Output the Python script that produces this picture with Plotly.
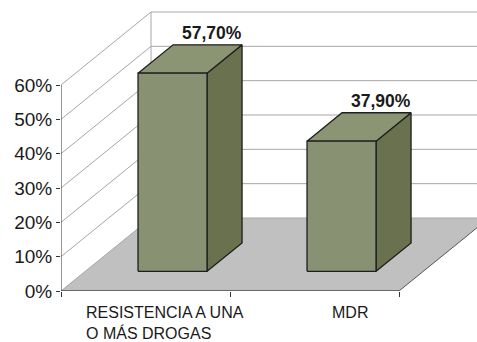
import plotly.graph_objects as go

categories = ["RESISTENCIA A UNA<br>O MÁS DROGAS", "MDR"]
values = [57.7, 37.9]
value_labels = ["57,70%", "37,90%"]
y_ticks = [0, 10, 20, 30, 40, 50, 60]
y_tick_labels = ["0%", "10%", "20%", "30%", "40%", "50%", "60%"]

# projection geometry (category units horizontally, percent units vertically)
PX_X = 169.0
PX_Y = 206.0 / 60.0
DX = 90.0 / PX_X
DY = 73.0 / PX_Y
X_MAX = 416.0 / PX_X
Y_MAX = 281.0 / PX_Y
YMAX_AXIS = 60

BAR_A = 0.312
BAR_W = 69.0 / PX_X
DF = 0.27
DB = 0.659

FRONT = "#889272"
SIDE = "#69714f"
TOP = "#8b9574"
EDGE = "#1e1e1e"
GRID = "#a6a6a6"
FLOOR = "#c0c0c0"


def proj(x, y, d):
    return x + d * DX, y + d * DY


fig = go.Figure()


def poly(pts, fill, line_color, width, closed=True):
    xs = [p[0] for p in pts]
    ys = [p[1] for p in pts]
    if closed:
        xs.append(xs[0])
        ys.append(ys[0])
    fig.add_trace(go.Scatter(
        x=xs, y=ys, mode="lines",
        fill="toself" if fill else None,
        fillcolor=fill,
        line=dict(color=line_color, width=width) if line_color else dict(width=0),
        hoverinfo="skip", showlegend=False))


n = len(categories)
# floor
poly([proj(0, 0, 0), proj(n, 0, 0), proj(n, 0, 1), proj(0, 0, 1)], FLOOR, None, 0)
# floor right edge
poly([proj(n, 0, 0), proj(n, 0, 1)], None, "#555555", 1, closed=False)
# walls gridlines
for v in y_ticks:
    poly([proj(0, v, 0), proj(0, v, 1), proj(X_MAX + 1, v, 1)], None, GRID, 1, closed=False)
poly([proj(0, 0, 1), proj(0, YMAX_AXIS, 1)], None, GRID, 1, closed=False)
# front axis line and floor front edge
poly([proj(0, 0, 0), proj(0, YMAX_AXIS, 0)], None, "#333333", 1, closed=False)
poly([proj(0, 0, 0), proj(n, 0, 0)], None, "#111111", 1.2, closed=False)

# bars
for i, v in enumerate(values):
    x0 = i + BAR_A
    x1 = x0 + BAR_W
    side = [proj(x1, 0, DF), proj(x1, 0, DB), proj(x1, v, DB), proj(x1, v, DF)]
    top = [proj(x0, v, DF), proj(x1, v, DF), proj(x1, v, DB), proj(x0, v, DB)]
    front = [proj(x0, 0, DF), proj(x1, 0, DF), proj(x1, v, DF), proj(x0, v, DF)]
    poly(side, SIDE, EDGE, 1.3)
    poly(top, TOP, EDGE, 1.3)
    poly(front, FRONT, EDGE, 1.3)
    lx, ly = proj((x0 + x1) / 2, v, DB)
    fig.add_annotation(x=lx, y=ly, xref="x", yref="y", text="<b>" + value_labels[i] + "</b>",
                       showarrow=False, xanchor="center", yanchor="middle", yshift=12, xshift=4,
                       font=dict(family="Liberation Sans, Arial", size=17.5, color="#1a1a1a"))

# category labels
cat_pos = [(84 - 61) / PX_X, (350 - 61) / PX_X]
cat_anchor = ["left", "center"]
for i, c in enumerate(categories):
    fig.add_annotation(x=cat_pos[i], y=0, xref="x", yref="y", text=c, showarrow=False,
                       xanchor=cat_anchor[i], yanchor="top", yshift=-11, align="left",
                       font=dict(family="Liberation Sans, Arial", size=16, color="#1a1a1a"))

fig.update_layout(
    width=477, height=342,
    margin=dict(l=61, r=0, t=10, b=51),
    paper_bgcolor="white", plot_bgcolor="white",
    xaxis=dict(range=[0, X_MAX], showgrid=False, zeroline=False, showline=False,
               tickvals=list(range(n + 1)), ticktext=[""] * (n + 1), ticks="outside",
               ticklen=5, tickcolor="#333333", fixedrange=True),
    yaxis=dict(range=[0, Y_MAX], showgrid=False, zeroline=False, showline=False,
               tickvals=y_ticks, ticktext=y_tick_labels, ticks="outside", ticklen=4,
               tickcolor="#333333", fixedrange=True,
               tickfont=dict(family="Liberation Sans, Arial", size=19, color="#1a1a1a")),
)

fig.write_html("out.html")
